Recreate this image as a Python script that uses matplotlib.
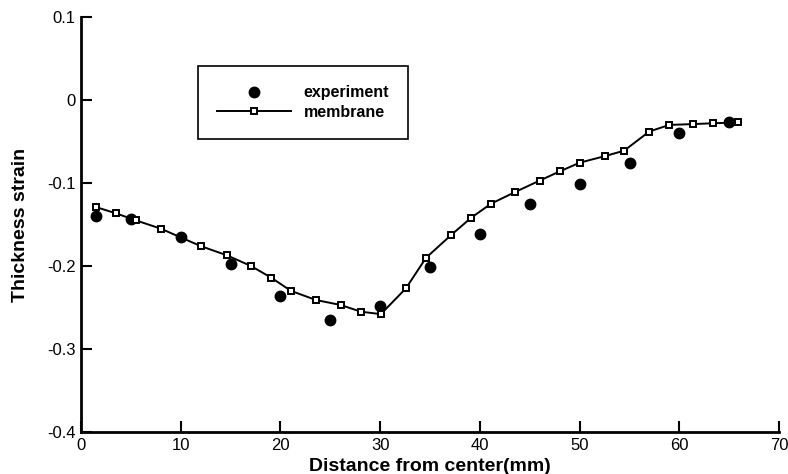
import matplotlib
matplotlib.use('Agg')
import matplotlib.pyplot as plt

plt.rcParams['font.family'] = ['Liberation Sans', 'DejaVu Sans']

# experiment (filled circles)
exp_x = [1.5, 5, 10, 15, 20, 25, 30, 35, 40, 45, 50, 55, 60, 65]
exp_y = [-0.140, -0.143, -0.165, -0.198, -0.236, -0.265, -0.248, -0.201,
         -0.161, -0.125, -0.101, -0.076, -0.040, -0.026]

# membrane (line with open squares)
mem_x = [1.5, 3.5, 5.5, 8.0, 12.0, 14.6, 17.05, 19.06, 21.06, 23.57, 26.05,
         28.05, 30.06, 32.57, 34.6, 37.08, 39.1, 41.1, 43.5, 46.0, 48.0, 50.0,
         52.56, 54.46, 56.97, 58.98, 61.4, 63.4, 65.9]
mem_y = [-0.129, -0.1365, -0.145, -0.155, -0.176, -0.187, -0.200, -0.214,
         -0.230, -0.241, -0.247, -0.255, -0.258, -0.227, -0.190, -0.163,
         -0.142, -0.125, -0.111, -0.097, -0.086, -0.0755, -0.0675, -0.061,
         -0.038, -0.030, -0.029, -0.028, -0.027]

x_ticks = [0, 10, 20, 30, 40, 50, 60, 70]
y_ticks = [0.1, 0, -0.1, -0.2, -0.3, -0.4]
y_labels = ['0.1', '0', '-0.1', '-0.2', '-0.3', '-0.4']

fig = plt.figure(figsize=(7.88, 4.74), dpi=100)
ax = fig.add_axes([0.1028, 0.0886, 0.886, 0.8755])

ax.plot(exp_x, exp_y, 'o', color='black', markersize=7.5, label='experiment')
ax.plot(mem_x, mem_y, '-s', color='black', lw=1.4, markersize=5,
        markerfacecolor='white', markeredgewidth=1.4, label='membrane')

ax.set_xlim(0, 70)
ax.set_ylim(-0.4, 0.1)
ax.set_xticks(x_ticks)
ax.set_xticklabels([str(t) for t in x_ticks])
ax.set_yticks(y_ticks)
ax.set_yticklabels(y_labels)
ax.tick_params(which='major', direction='in', length=8, width=1.5, labelsize=12, pad=4)

for s in ['top', 'right']:
    ax.spines[s].set_visible(False)
for s in ['left', 'bottom']:
    ax.spines[s].set_linewidth(2)

ax.set_xlabel('Distance from center(mm)', fontsize=14, fontweight='bold', labelpad=4)
ax.set_ylabel('Thickness strain', fontsize=14, fontweight='bold', labelpad=13)

leg = ax.legend(loc='upper left', bbox_to_anchor=(0.168, 0.882), fancybox=False,
                edgecolor='black', framealpha=1, handlelength=4.6, handletextpad=0.8,
                borderpad=1.2, labelspacing=0.3, prop={'weight': 'bold', 'size': 11.5},
                borderaxespad=0)
leg.get_frame().set_linewidth(1.2)

fig.savefig('out.png', dpi=100)
